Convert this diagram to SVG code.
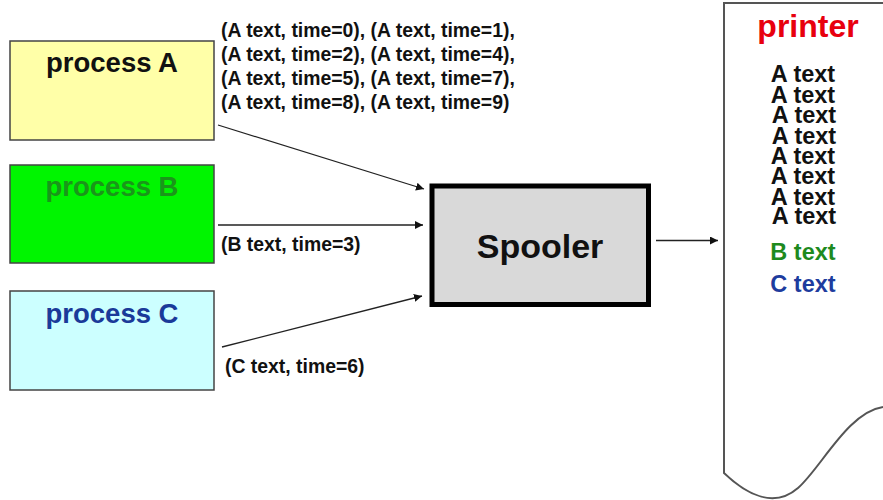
<svg xmlns="http://www.w3.org/2000/svg" width="883" height="500" viewBox="0 0 883 500">
  <style>
    text { font-family: "Liberation Sans", Arial, sans-serif; font-weight: bold; }
    .proc { stroke: #444; stroke-width: 1.5; }
    .ptitle { font-size: 27.5px; text-anchor: middle; }
    .lbl { font-size: 19.4px; fill: #111; }
    .conn { stroke: #222; stroke-width: 1.3; fill: none; marker-end: url(#arrow); }
    .out { font-size: 23.5px; text-anchor: middle; }
  </style>
  <defs>
    <marker id="arrow" viewBox="0 0 10 10" refX="10" refY="5" markerWidth="8" markerHeight="8" markerUnits="userSpaceOnUse" orient="auto">
      <path d="M0,0 L10,5 L0,10 z" fill="#111"/>
    </marker>
  </defs>
  <rect width="883" height="500" fill="#fff"/>

  <g id="processA">
    <rect class="proc" x="10" y="41" width="204" height="99" fill="#FFFFA8"/>
    <text class="ptitle" x="112" y="72" fill="#111">process A</text>
  </g>
  <g id="processB">
    <rect class="proc" x="10" y="165" width="204" height="98" fill="#00F500"/>
    <text class="ptitle" x="112" y="196" fill="#1A961A">process B</text>
  </g>
  <g id="processC">
    <rect class="proc" x="10" y="291" width="204" height="99" fill="#CCFFFF"/>
    <text class="ptitle" x="112" y="323" fill="#1A3A99">process C</text>
  </g>

  <g id="spooler">
    <rect x="432" y="186" width="216.5" height="118.5" fill="#D9D9D9" stroke="#000" stroke-width="5"/>
    <text x="540" y="258" font-size="34" text-anchor="middle" fill="#111">Spooler</text>
  </g>

  <g id="printer">
    <path d="M883,3 L724,3 L724,473 C748,496 775,508 798,488 S848,412 883,407" fill="none" stroke="#555" stroke-width="2"/>
    <text x="808" y="37" font-size="32" text-anchor="middle" fill="#E8000E">printer</text>
    <text class="out" x="803" y="82" fill="#111">A text</text>
    <text class="out" x="803" y="102.5" fill="#111">A text</text>
    <text class="out" x="804" y="123" fill="#111">A text</text>
    <text class="out" x="804" y="143.5" fill="#111">A text</text>
    <text class="out" x="803" y="164" fill="#111">A text</text>
    <text class="out" x="803" y="184" fill="#111">A text</text>
    <text class="out" x="803" y="204.5" fill="#111">A text</text>
    <text class="out" x="804" y="224" fill="#111">A text</text>
    <text class="out" x="803" y="260" fill="#1E8A1E">B text</text>
    <text class="out" x="803" y="292" fill="#1E3C9E">C text</text>
  </g>

  <g id="connectors">
    <line class="conn" x1="218" y1="125" x2="424" y2="189"/>
    <line class="conn" x1="218" y1="225" x2="423" y2="225"/>
    <line class="conn" x1="222" y1="347" x2="422" y2="296"/>
    <line class="conn" x1="656" y1="240.5" x2="718" y2="240.5"/>
    <text class="lbl" x="221" y="37">(A text, time=0), (A text, time=1),</text>
    <text class="lbl" x="221" y="61">(A text, time=2), (A text, time=4),</text>
    <text class="lbl" x="221" y="85">(A text, time=5), (A text, time=7),</text>
    <text class="lbl" x="221" y="109">(A text, time=8), (A text, time=9)</text>
    <text class="lbl" x="221" y="251">(B text, time=3)</text>
    <text class="lbl" x="225" y="373">(C text, time=6)</text>
  </g>
</svg>
